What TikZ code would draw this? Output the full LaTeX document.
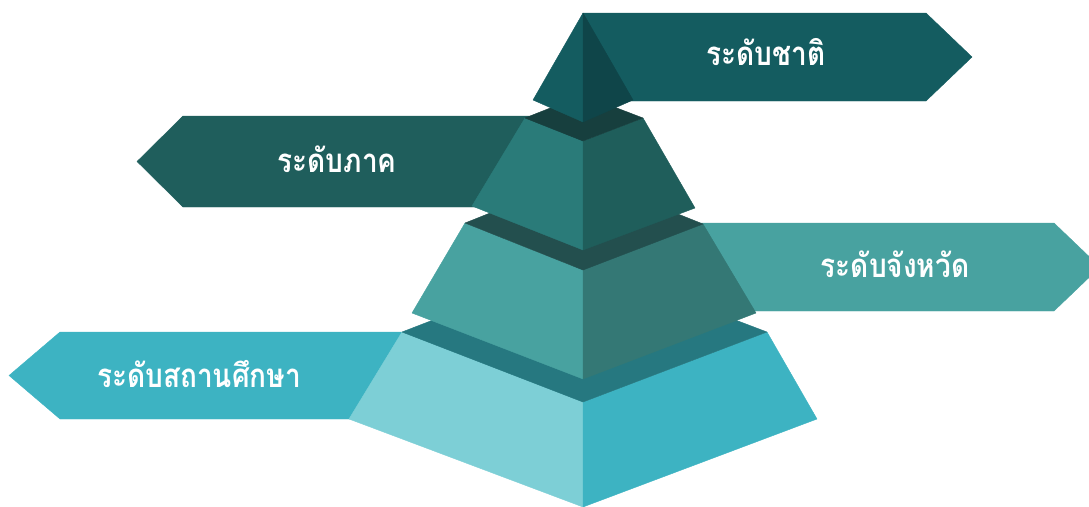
\documentclass[tikz,border=0pt]{standalone}
\usepackage{fontspec}
\newfontfamily\thaifont[Script=Thai]{Loma}
\definecolor{cA}{HTML}{145C60}
\definecolor{cAr}{HTML}{0F4549}
\definecolor{cB}{HTML}{1F5E5C}
\definecolor{cBl}{HTML}{2A7B79}
\definecolor{cBr}{HTML}{1F5E5B}
\definecolor{cBt}{HTML}{173F3E}
\definecolor{cC}{HTML}{48A2A0}
\definecolor{cCr}{HTML}{347875}
\definecolor{cCt}{HTML}{234F4E}
\definecolor{cD}{HTML}{3DB3C2}
\definecolor{cDl}{HTML}{7DCFD6}
\definecolor{cDt}{HTML}{267880}
\newcommand{\tallthai}[1]{\scalebox{1}[1.18]{#1}}
\begin{document}
\begin{tikzpicture}[x=0.75pt,y=-0.75pt,
  face/.style={fill=#1,draw=#1,line width=0.3pt,line join=round},
  lbl/.style={text=white,inner sep=0pt,anchor=base,
    font=\thaifont\bfseries\fontsize{21}{24}\selectfont}]
\useasboundingbox (0,0) rectangle (1089,507);
\clip (0,0) rectangle (1089,507);
% banners
\path[face=cA] (583,13) -- (926,13) -- (972,57) -- (926,101) -- (583,101) -- cycle;
\path[face=cB] (583,116) -- (183,116) -- (137,161.5) -- (183,207) -- (583,207) -- cycle;
\path[face=cC] (583,223) -- (1054,223) -- (1100,267) -- (1054,311) -- (583,311) -- cycle;
\path[face=cD] (583,332) -- (60,332) -- (9,375.5) -- (60,419) -- (583,419) -- cycle;
% tier 4
\path[face=cDl] (402,332) -- (583,402) -- (583,507) -- (349,419) -- cycle;
\path[face=cD] (583,402) -- (767,332) -- (817,419) -- (583,507) -- cycle;
\path[face=cDt] (402,332) -- (583,262) -- (767,332) -- (583,402) -- cycle;
% tier 3
\path[face=cC] (465,223) -- (583,270) -- (583,379) -- (412,313) -- cycle;
\path[face=cCr] (583,270) -- (703,224) -- (756,313) -- (583,379) -- cycle;
\path[face=cCt] (465,223) -- (583,176) -- (703,224) -- (583,270) -- cycle;
% tier 2
\path[face=cBl] (525,118) -- (583,141) -- (583,250) -- (472,206) -- cycle;
\path[face=cBr] (583,141) -- (643,118) -- (695,208) -- (583,250) -- cycle;
\path[face=cBt] (525,118) -- (583,95) -- (643,118) -- (583,141) -- cycle;
% apex
\path[face=cA] (583,13) -- (583,122) -- (533,100) -- cycle;
\path[face=cAr] (583,13) -- (633,100) -- (583,122) -- cycle;
% labels
\node[lbl] (t1) at (766,65) {\tallthai{ระดับชาติ}};
\node[lbl] (t2) at (337,172) {\tallthai{ระดับภาค}};
\node[lbl] (t3) at (895,277) {\tallthai{ระดับจังหวัด}};
\node[lbl] (t4) at (199,387) {\tallthai{ระดับสถานศึกษา}};
\end{tikzpicture}
\end{document}
